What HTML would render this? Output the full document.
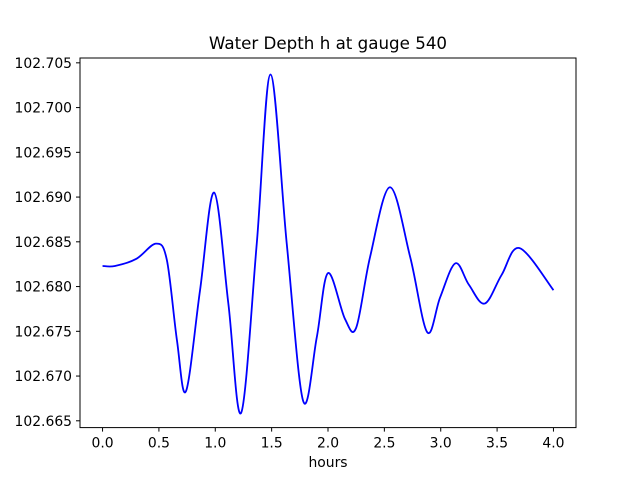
<!DOCTYPE html>
<html><head><meta charset="utf-8"><style>
html,body{margin:0;padding:0;background:#fff;}
svg{display:block;font-family:"DejaVu Sans","Liberation Sans",sans-serif;}
</style></head><body>
<svg id="chart" width="640" height="480" viewBox="0 0 640 480">
<rect width="640" height="480" fill="#fff"/>
<text x="328" y="49" font-size="16.7" text-anchor="middle" fill="#000">Water Depth h at gauge 540</text>
<g id="xticks"></g>
<g id="yticks"></g>
<path id="line" fill="none" stroke="#0000ff" stroke-width="1.8"/>
<rect x="80" y="58" width="496" height="369.6" fill="none" stroke="#000" stroke-width="1"/>
<text x="328" y="467" font-size="13.9" text-anchor="middle" fill="#000">hours</text>
</svg>
<script>
const hours = [0.0,0.11,0.30,0.475,0.57,0.66,0.74,0.865,0.99,1.116,1.23,1.368,1.49,1.634,1.78,1.90,2.00,2.15,2.25,2.373,2.55,2.729,2.88,2.995,3.13,3.25,3.39,3.54,3.70,4.0];
const depth = [102.6823,102.6823,102.6831,102.6848,102.6830,102.6740,102.6683,102.6796,102.6905,102.6781,102.6659,102.6848,102.7037,102.6848,102.6672,102.6743,102.6815,102.6764,102.6754,102.6833,102.6911,102.6833,102.6749,102.6788,102.6826,102.6802,102.6781,102.6813,102.6843,102.6796];
const xTickLabels = ["0.0","0.5","1.0","1.5","2.0","2.5","3.0","3.5","4.0"];
const yTickLabels = ["102.665","102.670","102.675","102.680","102.685","102.690","102.695","102.700","102.705"];

const L=80,R=576,T=58,B=427.6;
const xMin=-0.2,xMax=4.2;
const yMin=102.66424,yMax=102.70554;
function X(v){return L+(v-xMin)/(xMax-xMin)*(R-L);}
function Y(v){return B-(v-yMin)/(yMax-yMin)*(B-T);}
const NS="http://www.w3.org/2000/svg";
const xg=document.getElementById('xticks'), yg=document.getElementById('yticks');
xTickLabels.forEach(function(lab){
  const x=X(parseFloat(lab));
  const l=document.createElementNS(NS,'line');
  l.setAttribute('x1',x);l.setAttribute('x2',x);l.setAttribute('y1',B);l.setAttribute('y2',B+4);
  l.setAttribute('stroke','#000');
  
  
  xg.appendChild(l);
  const t=document.createElementNS(NS,'text');
  t.setAttribute('x',x);t.setAttribute('y',B+20);t.setAttribute('font-size','13.9');t.setAttribute('text-anchor','middle');
  t.textContent=lab;
  
  
  xg.appendChild(t);
});
yTickLabels.forEach(function(lab){
  const y=Y(parseFloat(lab));
  const l=document.createElementNS(NS,'line');
  l.setAttribute('x1',L-4);l.setAttribute('x2',L);l.setAttribute('y1',y);l.setAttribute('y2',y);
  l.setAttribute('stroke','#000');
  
  
  yg.appendChild(l);
  const t=document.createElementNS(NS,'text');
  t.setAttribute('x',L-8);t.setAttribute('y',y+5);t.setAttribute('font-size','13.9');t.setAttribute('text-anchor','end');
  t.textContent=lab;
  
  
  yg.appendChild(t);
});
const pts=hours.map(function(h,i){return [X(h),Y(depth[i])];});
let d='M'+pts[0][0]+','+pts[0][1];
for(let i=0;i<pts.length-1;i++){
  const p0=pts[Math.max(0,i-1)],p1=pts[i],p2=pts[i+1],p3=pts[Math.min(pts.length-1,i+2)];
  const c1x=p1[0]+(p2[0]-p0[0])/6,c1y=p1[1]+(p2[1]-p0[1])/6;
  const c2x=p2[0]-(p3[0]-p1[0])/6,c2y=p2[1]-(p3[1]-p1[1])/6;
  d+=' C'+c1x+','+c1y+' '+c2x+','+c2y+' '+p2[0]+','+p2[1];
}
document.getElementById('line').setAttribute('d',d);
</script>
</body></html>
